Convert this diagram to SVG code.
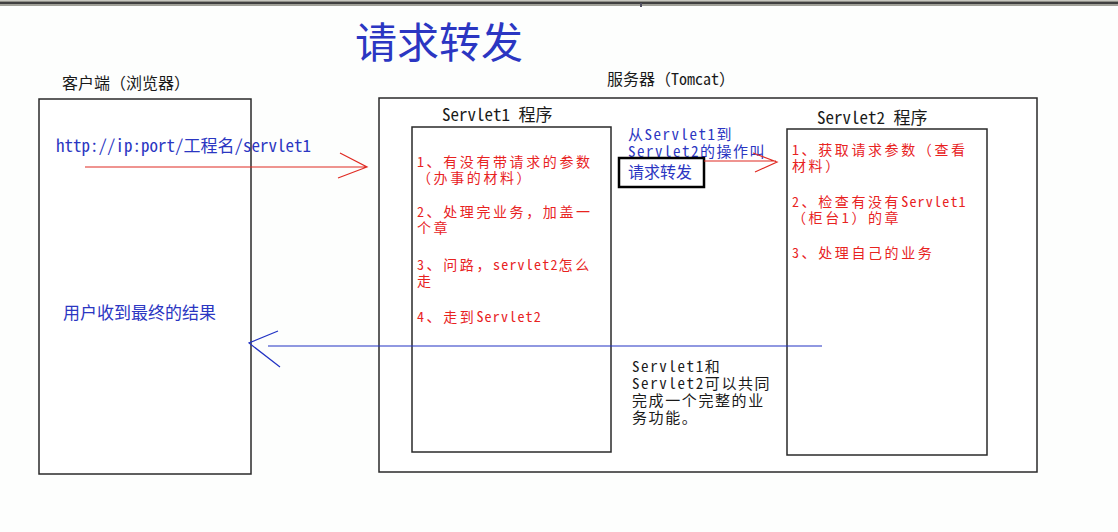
<svg xmlns="http://www.w3.org/2000/svg" width="1118" height="532" viewBox="0 0 1118 532">
<style>
text{font-family:"Noto Sans Mono CJK SC","Noto Sans CJK SC",sans-serif;font-size:17px}
.box{fill:#fff;stroke:#2a2a2a;stroke-width:1.5}
.red{fill:#e8231f;font-size:14px;letter-spacing:2.6px}
.l{letter-spacing:1.2px}
.blue{fill:#2b36c2}
.blk{fill:#1a1a1a}
.lbl{font-size:16px}
.fw{font-size:15px;letter-spacing:1.5px}
.sum{font-size:15px;letter-spacing:1.6px}
.ra{stroke:#e02a22;stroke-width:1.2;fill:none}
.ba{stroke:#2233c4;stroke-width:1.2;fill:none}
</style>
<rect x="0" y="0" width="1118" height="532" fill="#fdfefd"/>
<g id="topbar">
<rect x="0" y="0" width="1118" height="1" fill="#c8c8c0"/>
<rect x="0" y="1" width="1118" height="1" fill="#909088"/>
<rect x="0" y="2" width="1118" height="2" fill="#404040"/>
<rect x="0" y="4" width="1118" height="2" fill="#a0a098"/>
<rect x="640" y="3" width="2" height="4" fill="#505060"/>
</g>
<g id="title"><text x="355" y="58" class="blue" style="font-size:42px">请求转发</text></g>
<g id="client">
<text x="62" y="89" class="blk lbl">客户端（浏览器）</text>
<rect class="box" x="39" y="99" width="212" height="375"/>
<text x="56" y="152" class="blue">http://ip:port/工程名/servlet1</text>
<text x="63" y="319" class="blue">用户收到最终的结果</text>
</g>
<g id="server">
<text x="607" y="85" class="blk lbl">服务器（Tomcat）</text>
<rect class="box" x="379" y="98" width="658" height="374"/>
</g>
<g id="servlet1">
<text x="442" y="121" class="blk">Servlet1 程序</text>
<rect class="box" x="412" y="127" width="199" height="325"/>
<text class="red"><tspan x="417" y="167">1、有没有带请求的参数</tspan><tspan x="417" y="183">（办事的材料）</tspan><tspan x="417" y="217">2、处理完业务，加盖一</tspan><tspan x="417" y="233">个章</tspan><tspan x="417" y="270">3、问路，<tspan class="l">servlet2</tspan>怎么</tspan><tspan x="417" y="286">走</tspan><tspan x="417" y="322">4、走到<tspan class="l">Servlet2</tspan></tspan></text>
</g>
<g id="servlet2">
<text x="817" y="124" class="blk">Servlet2 程序</text>
<rect class="box" x="787" y="129" width="200" height="326"/>
<text class="red"><tspan x="792" y="155">1、获取请求参数（查看</tspan><tspan x="792" y="171">材料）</tspan><tspan x="792" y="207">2、检查有没有<tspan class="l">Servlet1</tspan></tspan><tspan x="792" y="223">（柜台1）的章</tspan><tspan x="792" y="258">3、处理自己的业务</tspan></text>
</g>
<g id="forward-note">
<text class="blue fw"><tspan x="628" y="140">从Servlet1到</tspan><tspan x="628" y="157">Servlet2的操作叫</tspan></text>
<rect x="619" y="158" width="85" height="29" fill="none" stroke="#000" stroke-width="2.5"/>
<text x="628" y="178" class="blue lbl">请求转发</text>
</g>
<g id="summary-note">
<text class="blk sum"><tspan x="632" y="372">Servlet1和</tspan><tspan x="632" y="389">Servlet2可以共同</tspan><tspan x="632" y="406">完成一个完整的业</tspan><tspan x="632" y="423">务功能。</tspan></text>
</g>
<g id="connectors">
<path class="ra" d="M85 167H367M340 153L367 167L338 178"/>
<path class="ra" d="M704 161H776M753 153L777 162L755 172"/>
<path class="ba" d="M268 346H822M278 331L249 343L280 367"/>
</g>
</svg>
